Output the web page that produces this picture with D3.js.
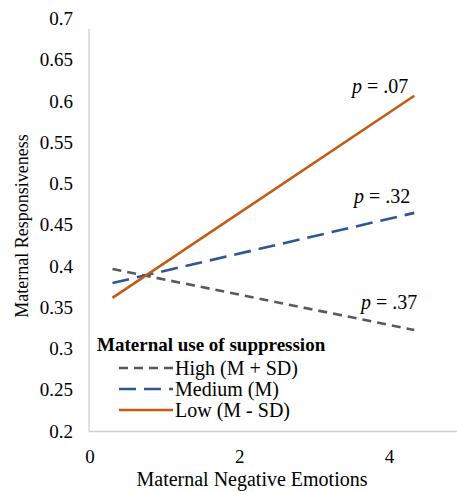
<!DOCTYPE html>
<html>
<head>
<meta charset="utf-8">
<script src="https://cdn.jsdelivr.net/npm/d3@7"></script>
<style>
  body { margin: 0; background: #fff; }
</style>
</head>
<body>
<script>
// data
var groups = ["High (M + SD)", "Medium (M)", "Low (M - SD)"];
var xValues = [0.3, 4.33];
var highValues = [0.397, 0.323];
var mediumValues = [0.380, 0.465];
var lowValues = [0.362, 0.607];
var pLabels = [".37", ".32", ".07"];
var yTicks = [0.2, 0.25, 0.3, 0.35, 0.4, 0.45, 0.5, 0.55, 0.6, 0.65, 0.7];
var xTicks = [0, 2, 4];

var width = 457, height = 492;
var margin = {left: 90, top: 19, bottom: 60};

var svg = d3.select("body").append("svg")
  .attr("width", width)
  .attr("height", height)
  .attr("font-family", "'Liberation Serif', 'Times New Roman', serif")
  .style("font-family", "'Liberation Serif', 'Times New Roman', serif");

var x = d3.scaleLinear().domain([0, 4.9]).range([margin.left, width]);
var y = d3.scaleLinear().domain([0.2, 0.7]).range([height - margin.bottom - 0.5, margin.top]);

// axis lines
svg.append("line")
  .attr("x1", margin.left - 1).attr("x2", margin.left - 1)
  .attr("y1", y(0.7) + 10).attr("y2", y(0.2))
  .attr("stroke", "#d0d0d0").attr("stroke-width", 1.3);
svg.append("line")
  .attr("x1", margin.left - 1).attr("x2", width)
  .attr("y1", y(0.2)).attr("y2", y(0.2))
  .attr("stroke", "#d0d0d0").attr("stroke-width", 1.3);

// y tick labels
svg.selectAll(".ytick")
  .data(yTicks)
  .enter()
  .append("text")
  .attr("class", "ytick")
  .attr("x", 73)
  .attr("y", function(d){ return y(d) + 6; })
  .attr("text-anchor", "end")
  .style("font-size", "19px")
  .text(function(d){ return d3.format("")(+d.toFixed(2)); });

// x tick labels
svg.selectAll(".xtick")
  .data(xTicks)
  .enter()
  .append("text")
  .attr("class", "xtick")
  .attr("x", function(d){ return x(d); })
  .attr("y", 463)
  .attr("text-anchor", "middle")
  .style("font-size", "19px")
  .text(function(d){ return d; });

// axis titles
svg.append("text")
  .attr("transform", "translate(28," + 226 + ") rotate(-90)")
  .attr("text-anchor", "middle")
  .style("font-size", "18px")
  .text("Maternal Responsiveness");
svg.append("text")
  .attr("x", 252)
  .attr("y", 486)
  .attr("text-anchor", "middle")
  .style("font-size", "20px")
  .text("Maternal Negative Emotions");

// series
var series = [
  {name: groups[0], values: highValues, color: "#595959", dash: "9,6", p: pLabels[0]},
  {name: groups[1], values: mediumValues, color: "#2f5597", dash: "17,8", p: pLabels[1]},
  {name: groups[2], values: lowValues, color: "#c55a11", dash: null, p: pLabels[2]}
];

var line = d3.line()
  .x(function(d, i){ return x(xValues[i]); })
  .y(function(d){ return y(d); });

svg.selectAll(".series")
  .data(series)
  .enter()
  .append("path")
  .attr("class", "series")
  .attr("d", function(d){ return line(d.values); })
  .attr("fill", "none")
  .attr("stroke", function(d){ return d.color; })
  .attr("stroke-width", 2.6)
  .attr("stroke-dasharray", function(d){ return d.dash; });

// p value labels, offset from each line's end
var pPos = [{dx: 3, dy: -21}, {dx: -4, dy: -10}, {dx: -6, dy: -3}];
series.forEach(function(s, i){
  var t = svg.append("text")
    .attr("x", x(xValues[1]) + pPos[i].dx)
    .attr("y", y(s.values[1]) + pPos[i].dy)
    .attr("text-anchor", "end")
    .style("font-size", "20px");
  t.append("tspan").style("font-style", "italic").text("p");
  t.append("tspan").text(" = " + s.p);
});

// legend
var legend = svg.append("g").attr("transform", "translate(97,0)");
legend.append("text")
  .attr("x", 0)
  .attr("y", 351)
  .style("font-size", "19px")
  .style("font-weight", "bold")
  .text("Maternal use of suppression");

var rows = legend.selectAll(".legendRow")
  .data(series)
  .enter()
  .append("g")
  .attr("class", "legendRow")
  .attr("transform", function(d, i){ return "translate(0," + (368 + i * 21) + ")"; });
rows.append("line")
  .attr("x1", 22).attr("x2", 76)
  .attr("y1", 0).attr("y2", 0)
  .attr("stroke", function(d){ return d.color; })
  .attr("stroke-width", 2.6)
  .attr("stroke-dasharray", function(d){ return d.dash; });
rows.append("text")
  .attr("x", 78)
  .attr("y", 7)
  .style("font-size", "20px")
  .text(function(d){ return d.name; });
</script>
</body>
</html>
